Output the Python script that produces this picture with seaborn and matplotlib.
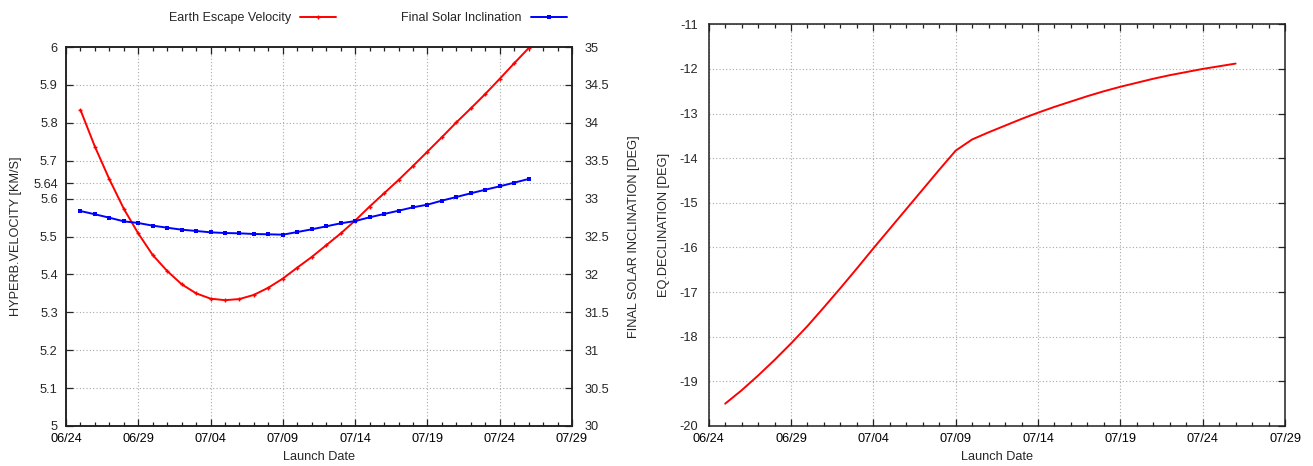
import numpy as np
import pandas as pd
import matplotlib
matplotlib.use("Agg")
import matplotlib.pyplot as plt
import matplotlib.dates as mdates
from matplotlib.ticker import FixedLocator, FuncFormatter
import seaborn as sns

# Launch window: one trajectory solution per day
launch_dates = pd.date_range("2020-06-25", "2020-07-26", freq="D")

escape_velocity = [
    5.834, 5.737, 5.651, 5.573, 5.508, 5.451, 5.409, 5.374, 5.350, 5.336,
    5.332, 5.335, 5.346, 5.365, 5.389, 5.418, 5.446, 5.477, 5.508, 5.542,
    5.579, 5.614, 5.649, 5.686, 5.724, 5.762, 5.801, 5.838, 5.876, 5.916,
    5.957, 5.997,
]

solar_inclination = [
    32.836, 32.793, 32.748, 32.700, 32.678, 32.643, 32.616, 32.590, 32.573, 32.555,
    32.546, 32.542, 32.533, 32.529, 32.524, 32.559, 32.595, 32.634, 32.674, 32.704,
    32.753, 32.797, 32.840, 32.885, 32.920, 32.973, 33.021, 33.070, 33.117, 33.162,
    33.210, 33.259,
]

eq_declination = [
    -19.50, -19.20, -18.87, -18.52, -18.15, -17.76, -17.34, -16.91, -16.47, -16.02,
    -15.58, -15.14, -14.70, -14.26, -13.83, -13.58, -13.42, -13.27, -13.12, -12.98,
    -12.85, -12.73, -12.61, -12.50, -12.40, -12.31, -12.22, -12.14, -12.07, -12.00,
    -11.94, -11.88,
]

x_tick_dates = pd.date_range("2020-06-24", "2020-07-29", freq="5D")
vel_ticks = [5.0, 5.1, 5.2, 5.3, 5.4, 5.5, 5.6, 5.64, 5.7, 5.8, 5.9, 6.0]
incl_ticks = [30, 30.5, 31, 31.5, 32, 32.5, 33, 33.5, 34, 34.5, 35]
decl_ticks = [-20, -19, -18, -17, -16, -15, -14, -13, -12, -11]

df = pd.DataFrame({
    "date": launch_dates,
    "vel": escape_velocity,
    "incl": solar_inclination,
    "decl": eq_declination,
})

sns.set_style("white")
plt.rcParams["font.family"] = ["Liberation Sans", "DejaVu Sans"]
plt.rcParams["font.size"] = 9.2
plt.rcParams["axes.linewidth"] = 1.1
plt.rcParams["axes.edgecolor"] = "#202020"

fig = plt.figure(figsize=(13.13, 4.66), dpi=100)
ax1 = fig.add_axes([66 / 1313, 1 - 426 / 466, 506 / 1313, 379 / 466])
ax3 = fig.add_axes([708.7 / 1313, 1 - 426 / 466, 576.3 / 1313, 401.7 / 466])

RED = "#ff0000"
BLUE = "#0000ff"
GRID = dict(color="#a8a8a8", linestyle=(0, (1, 2)), linewidth=0.8)

xmin = mdates.date2num(pd.Timestamp("2020-06-24"))
xmax = mdates.date2num(pd.Timestamp("2020-07-29"))
date_fmt = FuncFormatter(lambda v, pos: mdates.num2date(v).strftime("%m/%d"))


def style_x(ax, label_y):
    ax.set_xlim(xmin, xmax)
    ax.xaxis.set_major_locator(FixedLocator(mdates.date2num(x_tick_dates)))
    ax.xaxis.set_minor_locator(mdates.DayLocator())
    ax.xaxis.set_major_formatter(date_fmt)
    ax.tick_params(axis="x", which="major", direction="in", length=5, width=0.9,
                   top=True, bottom=True, pad=5, colors="#202020", labelcolor="black")
    ax.tick_params(axis="x", which="minor", direction="in", length=3, width=0.9,
                   top=True, bottom=True, colors="#202020")
    ax.set_xlabel("Launch Date")
    ax.xaxis.set_label_coords(0.5, label_y)


def num_fmt(v, pos):
    return f"{v:g}"


# Left panel: escape velocity and final solar inclination
sns.lineplot(data=df, x="date", y="vel", ax=ax1, color=RED, linewidth=1.4,
             marker="+", markersize=3, markeredgewidth=1.0, markeredgecolor=RED,
             label="Earth Escape Velocity", legend=False)
ax2 = ax1.twinx()
sns.lineplot(data=df, x="date", y="incl", ax=ax2, color=BLUE, linewidth=1.4,
             marker="s", markersize=3.2, markeredgewidth=0, markerfacecolor=BLUE,
             label="Final Solar Inclination", legend=False)

style_x(ax1, -0.066)
ax1.set_ylim(5.0, 6.0)
ax1.yaxis.set_major_locator(FixedLocator(vel_ticks))
ax1.yaxis.set_major_formatter(FuncFormatter(num_fmt))
ax1.tick_params(axis="y", direction="in", length=5, width=0.9, right=False, pad=6)
ax1.set_ylabel("HYPERB.VELOCITY [KM/S]")
ax1.yaxis.set_label_coords(-0.087, 0.5)
ax1.grid(True, which="major", **GRID)

ax2.set_ylim(30, 35)
ax2.yaxis.set_major_locator(FixedLocator(incl_ticks))
ax2.yaxis.set_major_formatter(FuncFormatter(num_fmt))
ax2.tick_params(axis="y", direction="in", length=5, width=0.9, pad=9)
ax2.set_ylabel("FINAL SOLAR INCLINATION [DEG]")
ax2.yaxis.set_label_coords(1.111, 0.5)
ax2.grid(False)
ax2.set_xlim(xmin, xmax)

h1, l1 = ax1.get_legend_handles_labels()
h2, l2 = ax2.get_legend_handles_labels()
fig.legend(h1 + h2, l1 + l2, loc="center", bbox_to_anchor=(368 / 1313, 1 - 18 / 466),
           ncol=2, frameon=False, markerfirst=False, handlelength=2.9,
           columnspacing=5.2, handletextpad=0.7, fontsize=9)

# Right panel: equatorial declination
sns.lineplot(data=df, x="date", y="decl", ax=ax3, color=RED, linewidth=1.4, legend=False)
style_x(ax3, -0.062)
ax3.set_ylim(-20, -11)
ax3.yaxis.set_major_locator(FixedLocator(decl_ticks))
ax3.yaxis.set_major_formatter(FuncFormatter(num_fmt))
ax3.tick_params(axis="y", direction="in", length=5, width=0.9, right=True, pad=8)
ax3.set_ylabel("EQ.DECLINATION [DEG]")
ax3.yaxis.set_label_coords(-0.067, 0.5)
ax3.grid(True, which="major", **GRID)

fig.savefig("out.png", dpi=100)
